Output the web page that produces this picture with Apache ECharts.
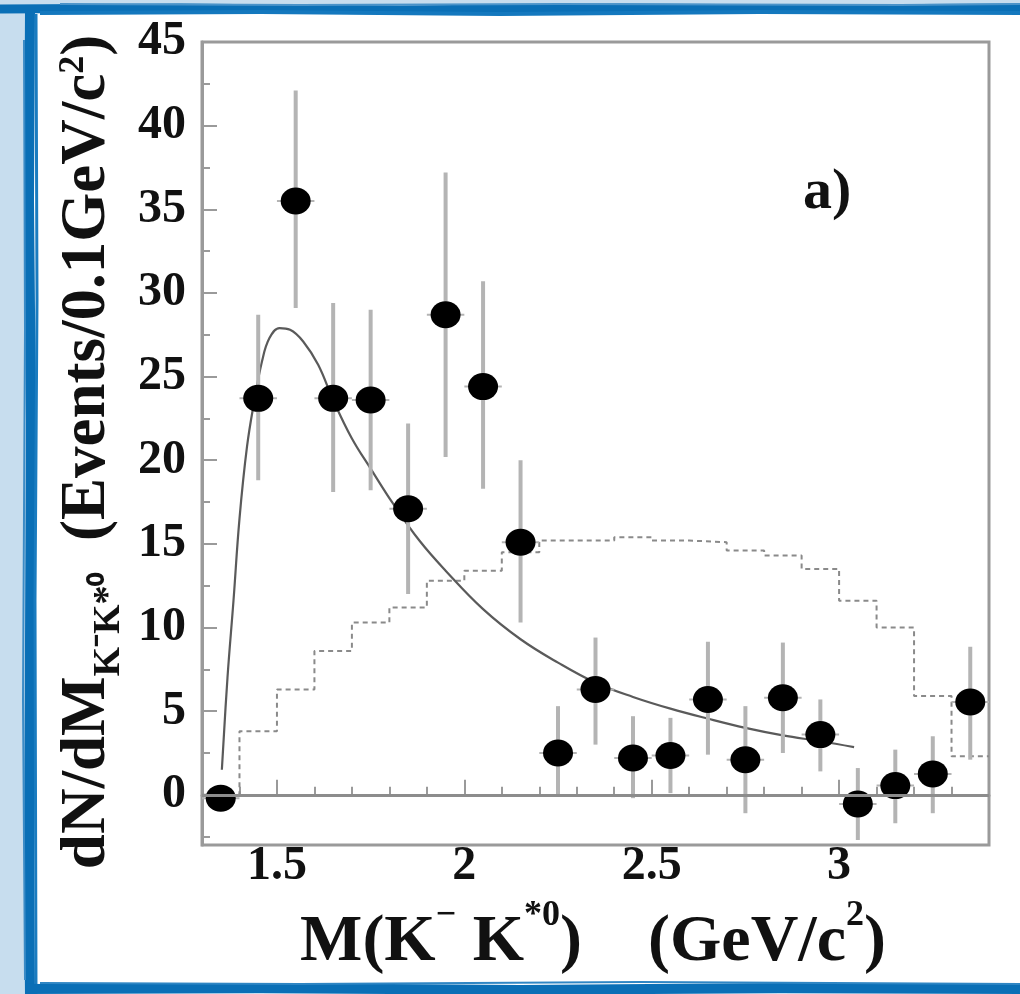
<!DOCTYPE html>
<html>
<head>
<meta charset="utf-8">
<title>M(K- K*0) spectrum</title>
<script src="https://cdn.jsdelivr.net/npm/echarts@6/dist/echarts.min.js"></script>
<style>
  html, body { margin: 0; padding: 0; background: #c7ddee; }
  #chart { width: 1020px; height: 994px; }
</style>
</head>
<body>
<div id="chart"></div>
<script>
// Bin centres of M(K- K*0) in GeV/c^2 (0.1 GeV/c^2 bins)
const binCenters = [1.35, 1.45, 1.55, 1.65, 1.75, 1.85, 1.95, 2.05, 2.15, 2.25, 2.35,
                    2.45, 2.55, 2.65, 2.75, 2.85, 2.95, 3.05, 3.15, 3.25, 3.35];
// Measured yields per bin and their error ranges
const yields  = [-0.2, 23.7, 35.5, 23.7, 23.6, 17.1, 28.7, 24.4, 15.1, 2.5, 6.3,
                 2.2, 2.35, 5.7, 2.1, 5.8, 3.6, -0.55, 0.55, 1.25, 5.55];
const errLow  = [-0.2, 18.8, 29.1, 18.1, 18.2, 12.0, 20.2, 18.3, 10.3, -0.1, 3.0,
                 -0.2, 0.1, 2.4, -1.1, 2.5, 1.4, -2.7, -1.7, -1.1, 2.1];
const errHigh = [-0.2, 28.7, 42.1, 29.4, 29.0, 22.2, 37.2, 30.7, 20.0, 5.3, 9.4,
                 4.7, 4.6, 9.15, 5.3, 9.1, 5.7, 1.6, 2.7, 3.5, 8.85];
// Phase-space expectation per bin (dotted histogram)
const phaseSpace = [0, 3.8, 6.3, 8.6, 10.3, 11.2, 12.8, 13.4, 14.5, 15.2, 15.2,
                    15.4, 15.2, 15.1, 14.6, 14.3, 13.5, 11.6, 10.0, 5.9, 2.3];
// Fitted resonance curve (mass, yield)
const fitMass  = [1.353, 1.368, 1.384, 1.400, 1.420, 1.440, 1.460, 1.480, 1.507,
                  1.535, 1.570, 1.610, 1.650, 1.700, 1.750, 1.810, 1.880, 1.950,
                  2.050, 2.150, 2.250, 2.350, 2.450, 2.550, 2.650, 2.750, 2.850, 2.950, 3.040];
const fitYield = [1.5, 7.0, 11.6, 16.5, 20.8, 23.6, 25.9, 27.3, 27.9,
                  27.8, 27.1, 25.7, 23.6, 21.3, 19.5, 17.4, 15.2, 13.4,
                  11.1, 9.3, 7.9, 6.7, 5.85, 5.15, 4.55, 4.0, 3.55, 3.2, 2.85];
// Axis ticks
const xMajorTicks = [1.5, 2, 2.5, 3];
const xMinorTicks = [1.4, 1.6, 1.7, 1.8, 1.9, 2.1, 2.2, 2.3, 2.4, 2.6, 2.7, 2.8, 2.9, 3.1, 3.2, 3.3];
const yMajorTicks = [0, 5, 10, 15, 20, 25, 30, 35, 40, 45];
const yMinorTicks = [-2.5, 2.5, 7.5, 12.5, 17.5, 22.5, 27.5, 32.5, 37.5, 42.5];

const BIN_HALF = 0.05;
const serif = '"Liberation Serif", "Times New Roman", serif';
const frameGray = '#9a9a9a';

const pointData = binCenters.map((m, i) => [m, yields[i], errLow[i], errHigh[i]]);
// step histogram: left edges, plus closing right edge
const histData = binCenters.map((m, i) => [m - BIN_HALF, phaseSpace[i]]);
histData.push([binCenters[binCenters.length - 1] + BIN_HALF, phaseSpace[phaseSpace.length - 1]]);
const fitData = fitMass.map((m, i) => [m, fitYield[i]]);

// Brush-like border strokes around the figure
function strokeLines(points, color, width) {
  return { type: 'polyline', silent: true, z: -5,
           shape: { points: points }, style: { stroke: color, lineWidth: width, fill: null } };
}
const deco = [
  { type: 'rect', silent: true, z: -9, shape: { x: 34, y: 13, width: 990, height: 972 }, style: { fill: '#ffffff' } },
  strokeLines([[0, 9], [180, 8], [400, 10], [620, 8], [820, 9], [1020, 8]], '#0a6fb6', 9),
  strokeLines([[40, 13], [260, 12], [500, 14], [760, 12], [1020, 13]], '#1478be', 4),
  strokeLines([[60, 4], [300, 5], [560, 4], [900, 5], [1020, 4]], '#4a93c9', 2),
  strokeLines([[30, 12], [29, 200], [31, 420], [30, 640], [29, 860], [30, 994]], '#0a6fb6', 10),
  strokeLines([[36, 14], [37, 300], [35, 600], [36, 994]], '#1a7cc0', 3),
  strokeLines([[24, 40], [25, 330], [23, 700], [25, 980]], '#3b8bc6', 2),
  strokeLines([[26, 989], [260, 988], [520, 990], [780, 988], [1020, 989]], '#0a6fb6', 10),
  strokeLines([[40, 983], [300, 984], [640, 982], [1020, 984]], '#2f86c4', 2),
  { type: 'text', silent: true, z: 5, x: 803, y: 193,
    style: { text: 'a)', font: 'bold 58px ' + serif, fill: '#111', align: 'left', verticalAlign: 'middle' } },
  { type: 'text', silent: true, z: 5, x: 593, y: 937,
    style: {
      text: '{b|M(K}{s|\u2212}{b| K}{s|*0}{b|)    (GeV/c}{s|2}{b|)}',
      align: 'center', verticalAlign: 'middle', fill: '#111',
      rich: {
        b: { font: 'bold 66px ' + serif, fill: '#111', lineHeight: 78, verticalAlign: 'bottom' },
        s: { font: 'bold 36px ' + serif, fill: '#111', lineHeight: 36, verticalAlign: 'top' }
      }
    } },
  { type: 'text', silent: true, z: 5, x: 92, y: 452, rotation: Math.PI / 2,
    style: {
      text: '{b|dN/dM}{k|K\u207BK*\u2070}{b|  (Events/0.1GeV/c}{s|2}{b|)}',
      align: 'center', verticalAlign: 'middle', fill: '#111',
      rich: {
        b: { font: 'bold 63px ' + serif, fill: '#111', lineHeight: 72, verticalAlign: 'top' },
        k: { font: 'bold 38px ' + serif, fill: '#111', lineHeight: 40, verticalAlign: 'bottom' },
        s: { font: 'bold 36px ' + serif, fill: '#111', lineHeight: 36, verticalAlign: 'top' }
      }
    } }
];

const chart = echarts.init(document.getElementById('chart'), null, { renderer: 'canvas' });

const axisBase = {
  type: 'value',
  splitLine: { show: false },
  axisLine: { show: true, lineStyle: { color: frameGray, width: 3 } }
};

chart.setOption({
  animation: false,
  backgroundColor: '#c7ddee',
  graphic: deco,
  grid: { left: 202, right: 31, top: 42, bottom: 149, show: true,
          borderColor: frameGray, borderWidth: 3, backgroundColor: '#ffffff' },
  xAxis: [
    Object.assign({}, axisBase, {
      min: 1.3, max: 3.4, position: 'bottom',
      axisTick: { inside: true, length: 15, lineStyle: { color: frameGray, width: 2 }, customValues: xMajorTicks },
      axisLabel: { customValues: xMajorTicks, margin: -2, color: '#111',
                   fontFamily: serif, fontWeight: 'bold', fontSize: 48,
                   formatter: v => String(v) }
    }),
    Object.assign({}, axisBase, {
      min: 1.3, max: 3.4, position: 'bottom', axisLine: { show: false },
      axisTick: { inside: true, length: 8, lineStyle: { color: frameGray, width: 2 }, customValues: xMinorTicks },
      axisLabel: { show: false }
    })
  ],
  yAxis: [
    Object.assign({}, axisBase, {
      min: -3, max: 45, position: 'left',
      axisTick: { inside: true, length: 15, lineStyle: { color: frameGray, width: 2 }, customValues: yMajorTicks },
      axisLabel: { customValues: yMajorTicks, margin: 16, color: '#111',
                   fontFamily: serif, fontWeight: 'bold', fontSize: 48 }
    }),
    Object.assign({}, axisBase, {
      min: -3, max: 45, position: 'left', axisLine: { show: false },
      axisTick: { inside: true, length: 8, lineStyle: { color: frameGray, width: 2 }, customValues: yMinorTicks },
      axisLabel: { show: false }
    })
  ],
  series: [
    {
      name: 'phase space', type: 'line', step: 'end', data: histData,
      symbol: 'none', z: 1,
      lineStyle: { color: '#8a8a8a', width: 2, type: [5, 4] },
      markLine: {
        silent: true, symbol: 'none', label: { show: false },
        lineStyle: { color: '#8c8c8c', width: 3, type: 'solid' },
        data: [{ yAxis: 0 }]
      }
    },
    {
      name: 'fit', type: 'line', data: fitData, smooth: 0.4,
      symbol: 'none', z: 2,
      lineStyle: { color: '#5a5a5a', width: 2.2 }
    },
    {
      name: 'errors', type: 'custom', data: pointData, z: 3,
      renderItem: function (params, api) {
        const m = api.value(0), y = api.value(1), lo = api.value(2), hi = api.value(3);
        const a = api.coord([m, lo]), b = api.coord([m, hi]);
        const l = api.coord([m - BIN_HALF, y]), r = api.coord([m + BIN_HALF, y]);
        return {
          type: 'group',
          children: [
            { type: 'line', shape: { x1: a[0], y1: a[1], x2: b[0], y2: b[1] },
              style: { stroke: '#b4b4b4', lineWidth: 4 } },
            { type: 'line', shape: { x1: l[0], y1: l[1], x2: r[0], y2: r[1] },
              style: { stroke: '#b4b4b4', lineWidth: 2 } }
          ]
        };
      }
    },
    {
      name: 'data', type: 'scatter', data: pointData.map(p => [p[0], p[1]]),
      symbol: 'circle', symbolSize: [30, 27], z: 4,
      itemStyle: { color: '#000000', opacity: 1 }
    }
  ]
});
</script>
</body>
</html>
